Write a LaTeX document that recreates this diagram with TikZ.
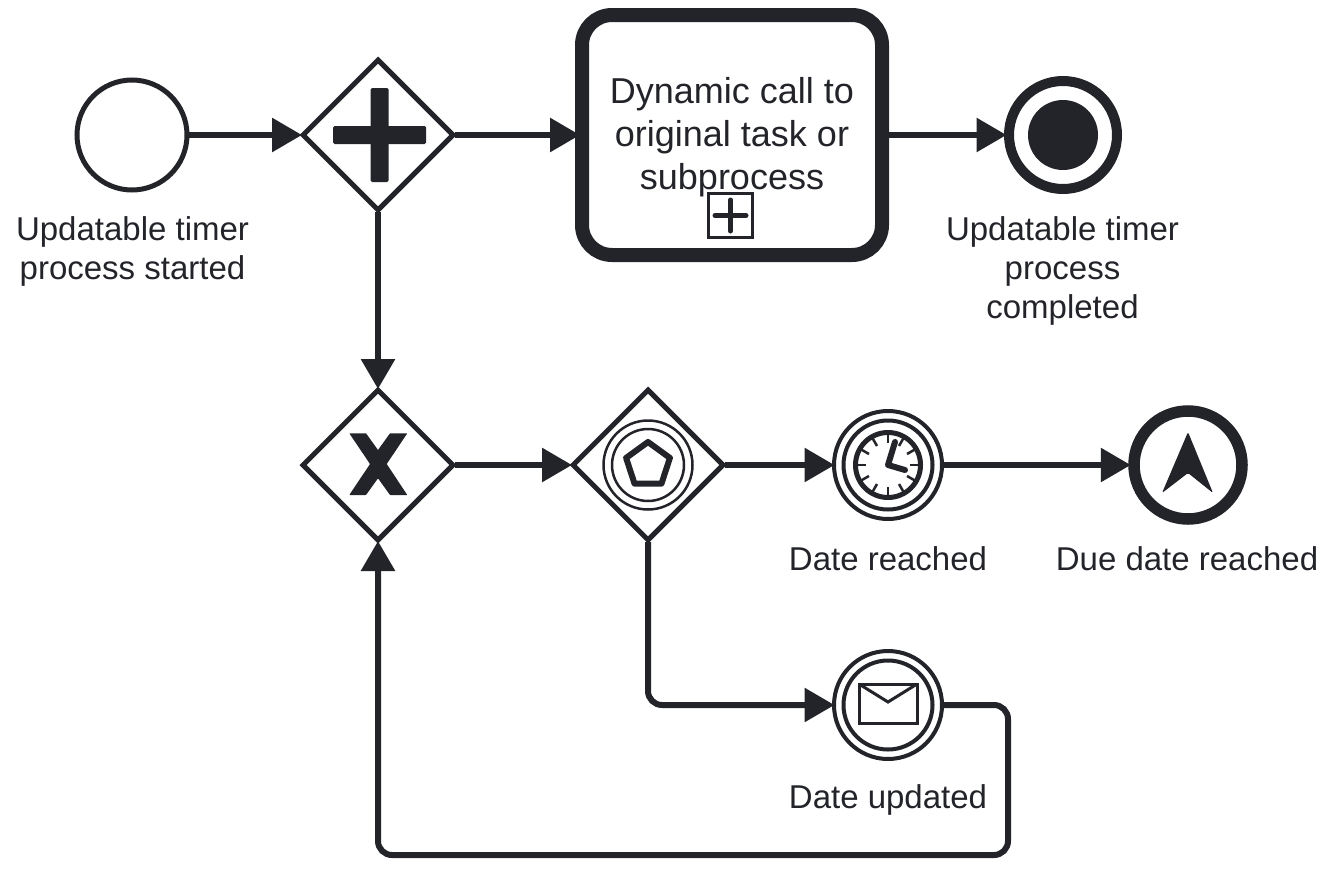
\documentclass[tikz,border=0pt]{standalone}
\usepackage{fontspec}
\setmainfont{Liberation Sans}
\usetikzlibrary{shapes.geometric,arrows.meta}
\definecolor{ink}{HTML}{22242A}
\tikzset{
  x=1pt,y=-1pt,
  every node/.style={text=ink},
  base/.style={draw=ink,fill=white,inner sep=0pt,outer sep=auto},
  evtdouble/.style={base,circle,minimum size=108pt,line width=4pt},
  gate/.style={base,diamond,aspect=1,minimum width=152pt,minimum height=152pt,line width=5pt},
  ringline/.style={draw=ink,line width=4pt},
  flow/.style={draw=ink,line width=6pt,rounded corners=14pt,shorten <=-1.5pt,shorten >=-2.5pt,-{Triangle[length=30pt,width=33pt]}},
  lbl/.style={inner sep=0pt,align=center,font=\fontsize{33}{39}\selectfont}
}
\begin{document}
\begin{tikzpicture}
\useasboundingbox (0,0) rectangle (1335,870);
% nodes
\node[base,circle,minimum size=110pt,line width=5pt] (start) at (132,135) {};
\node[gate] (gwa) at (378,135) {};
\node[base,rectangle,rounded corners=30pt,minimum width=300pt,minimum height=240pt,line width=14pt] (task) at (732,135) {};
\node[inner sep=0pt,align=center,font=\fontsize{36}{43}\selectfont] (tasktext) at (732,137) {Dynamic call to\\original task or\\subprocess};
\node[base,circle,minimum size=108pt,line width=10pt] (endev) at (1063,135) {};
\node[gate] (gwx) at (378,465) {};
\node[gate] (gwe) at (648,465) {};
\node[evtdouble] (timer) at (888,465) {};
\node[base,circle,minimum size=108pt,line width=11.5pt] (due) at (1188,465) {};
\node[evtdouble] (msg) at (888,705) {};
\coordinate (corner) at (1008,855);
% labels
\node[lbl] (l1) at (132.5,251) {Updatable timer\\process started};
\node[lbl] (l2) at (1062.5,271) {Updatable timer\\process\\completed};
\node[lbl] (l3) at (888,559) {Date reached};
\node[lbl] (l4) at (1187,559) {Due date reached};
\node[lbl] (l5) at (888,800) {Date updated};
% connectors
\draw[flow] (start) -- (gwa);
\draw[flow,shorten >=-5pt] (gwa) -- (task);
\draw[flow] (task) -- (endev);
\draw[flow] (gwa) -- (gwx);
\draw[flow] (gwx) -- (gwe);
\draw[flow] (gwe) -- (timer);
\draw[flow] (timer) -- (due);
\draw[flow] (gwe.south) |- (msg.west);
\draw[flow] (msg.east) -| (corner) -| (gwx.south);
% task marker
\draw[draw=ink,line width=3pt] (708.5,193.5) rectangle (752.5,237.5);
\draw[draw=ink,line width=5pt,line cap=round] (715,215.5) -- (746,215.5) (730.5,200) -- (730.5,231);
% end event disc
\fill[ink] (1063,135) circle (35);
% parallel plus
\fill[ink,rounded corners=1.5pt] (333,126) rectangle (426,144);
\fill[ink,rounded corners=1.5pt] (370.5,88) rectangle (388.5,182);
% exclusive X
\fill[ink,rounded corners=0.6pt] (349.3,433.3) -- (366,433.3) -- (378,450) -- (390,433.3) -- (407.3,433.3) -- (386.7,464)
  -- (407.3,495) -- (390,495) -- (378,478.3) -- (366,495) -- (349.3,495) -- (370,464) -- cycle;
% event gateway
\draw[draw=ink,line width=2.5pt] (648,465) circle (44.5) (648,465) circle (36);
\draw[draw=ink,line width=6pt,line join=round,shift={(648,465)}]
  (0,-23) -- (21.9,-7.1) -- (13.5,18.6) -- (-13.5,18.6) -- (-21.9,-7.1) -- cycle;
% inner rings
\draw[ringline] (timer.center) circle (44.5);
\draw[ringline] (msg.center) circle (44.5);
% clock
\draw[draw=ink,line width=5pt] (timer.center) circle (32.5);
\foreach \a in {0,30,...,330}{
  \draw[draw=ink,line width=2.5pt,shift={(timer.center)}] (\a:31) -- (\a:22);
}
\draw[draw=ink,line width=6pt,line cap=round,line join=round] (895,442) -- (888,465) -- (905,470);
% envelope
\draw[draw=ink,line width=3pt,line join=miter] (859,684) rectangle (917,723);
\draw[draw=ink,line width=3pt] (859,684) -- (888,702) -- (917,684);
% escalation
\fill[ink,rounded corners=1.5pt] (1188,432) -- (1213,493) -- (1188,473) -- (1162,493) -- cycle;
\end{tikzpicture}
\end{document}
